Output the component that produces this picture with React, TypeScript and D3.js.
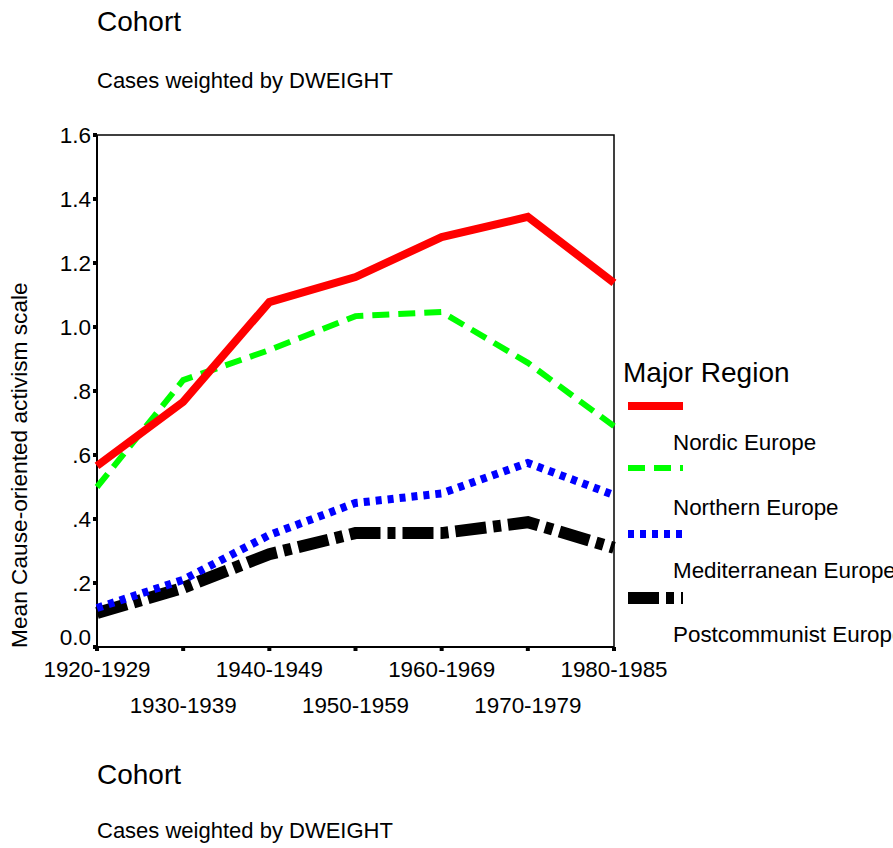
import * as d3 from 'd3';

const cohorts = ['1920-1929', '1930-1939', '1940-1949', '1950-1959', '1960-1969', '1970-1979', '1980-1985'];
const yTicks = [0, 0.2, 0.4, 0.6, 0.8, 1.0, 1.2, 1.4, 1.6];
const yTickLabels = ['0.0', '.2', '.4', '.6', '.8', '1.0', '1.2', '1.4', '1.6'];

const nordic = [0.566, 0.766, 1.078, 1.156, 1.281, 1.344, 1.138];
const northern = [0.5, 0.834, 0.928, 1.034, 1.047, 0.888, 0.69];
const mediterranean = [0.122, 0.21, 0.35, 0.45, 0.48, 0.575, 0.475];
const postcommunist = [0.106, 0.185, 0.29, 0.356, 0.356, 0.39, 0.31];

const regions = ['Nordic Europe', 'Northern Europe', 'Mediterranean Europe', 'Postcommunist Europe'];

const series = [
    { name: regions[0], values: nordic, color: '#ff0000', width: 8, dash: '' },
    { name: regions[1], values: northern, color: '#00ff00', width: 6, dash: '17 9' },
    { name: regions[2], values: mediterranean, color: '#0000ff', width: 8, dash: '6 6' },
    { name: regions[3], values: postcommunist, color: '#000000', width: 12, dash: '31 7 8 7' },
];

const font = 'Arial, "Liberation Sans", sans-serif';

export default function App() {
    const margin = { top: 135, left: 97 };
    const width = 517,
        height = 512;

    const x = d3.scalePoint<string>().domain(cohorts).range([margin.left, margin.left + width]);
    const y = d3.scaleLinear().domain([0, 1.6]).range([margin.top + height, margin.top]);

    const line = d3
        .line<number>()
        .x((_, i) => x(cohorts[i]) as number)
        .y((d) => y(d));

    const bottom = margin.top + height;

    return (
        <svg
            width={893}
            height={848}
            style={{ position: 'absolute', left: 0, top: 0, display: 'block', background: '#fff' }}
            fontFamily={font}
        >
            <rect width={893} height={848} fill="#fff" />
            <text x={97} y={31} fontSize={28}>Cohort</text>
            <text x={97} y={88} fontSize={22}>Cases weighted by DWEIGHT</text>

            {/* frame */}
            <rect x={margin.left} y={margin.top} width={width} height={height} fill="none" stroke="#000" strokeWidth={1.5} />
            <line x1={margin.left} x2={margin.left} y1={margin.top} y2={bottom} stroke="#000" strokeWidth={2} />
            <line x1={margin.left} x2={margin.left + width} y1={bottom} y2={bottom} stroke="#000" strokeWidth={2} />

            {/* y axis */}
            {yTicks.map((t, i) => (
                <g key={t}>
                    <line x1={margin.left - 4} x2={margin.left} y1={y(t)} y2={y(t)} stroke="#000" strokeWidth={4} />
                    <text
                        x={margin.left - 6}
                        y={y(t) - (i === 0 ? 10 : 0)}
                        fontSize={22.5}
                        textAnchor="end"
                        dominantBaseline="central"
                    >
                        {yTickLabels[i]}
                    </text>
                </g>
            ))}
            <text transform="translate(27,648) rotate(-90)" fontSize={22.7}>
                Mean Cause-oriented activism scale
            </text>

            {/* x axis */}
            {cohorts.map((c, i) => (
                <g key={c}>
                    <line x1={x(c)} x2={x(c)} y1={bottom} y2={bottom + 4} stroke="#000" strokeWidth={4} />
                    <text x={x(c)} y={i % 2 === 0 ? 677 : 713} fontSize={22.4} textAnchor="middle">
                        {c}
                    </text>
                </g>
            ))}

            {/* lines */}
            {series
                .slice()
                .reverse()
                .map((s) => (
                    <path
                        key={s.name}
                        d={line(s.values) ?? ''}
                        fill="none"
                        stroke={s.color}
                        strokeWidth={s.width}
                        strokeDasharray={s.dash || undefined}
                        strokeLinejoin="miter"
                    />
                ))}

            {/* legend */}
            <text x={623} y={382} fontSize={28}>Major Region</text>
            {series.map((s, i) => {
                const sy = [406, 468, 534, 598][i];
                const ly = [450, 515, 578, 642][i];
                return (
                    <g key={s.name}>
                        <line
                            x1={628}
                            x2={683}
                            y1={sy}
                            y2={sy}
                            stroke={s.color}
                            strokeWidth={s.width}
                            strokeDasharray={s.dash || undefined}
                        />
                        <text x={673} y={ly} fontSize={22.4}>
                            {s.name}
                        </text>
                    </g>
                );
            })}

            <text x={97} y={784} fontSize={28}>Cohort</text>
            <text x={97} y={838} fontSize={22}>Cases weighted by DWEIGHT</text>
        </svg>
    );
}
